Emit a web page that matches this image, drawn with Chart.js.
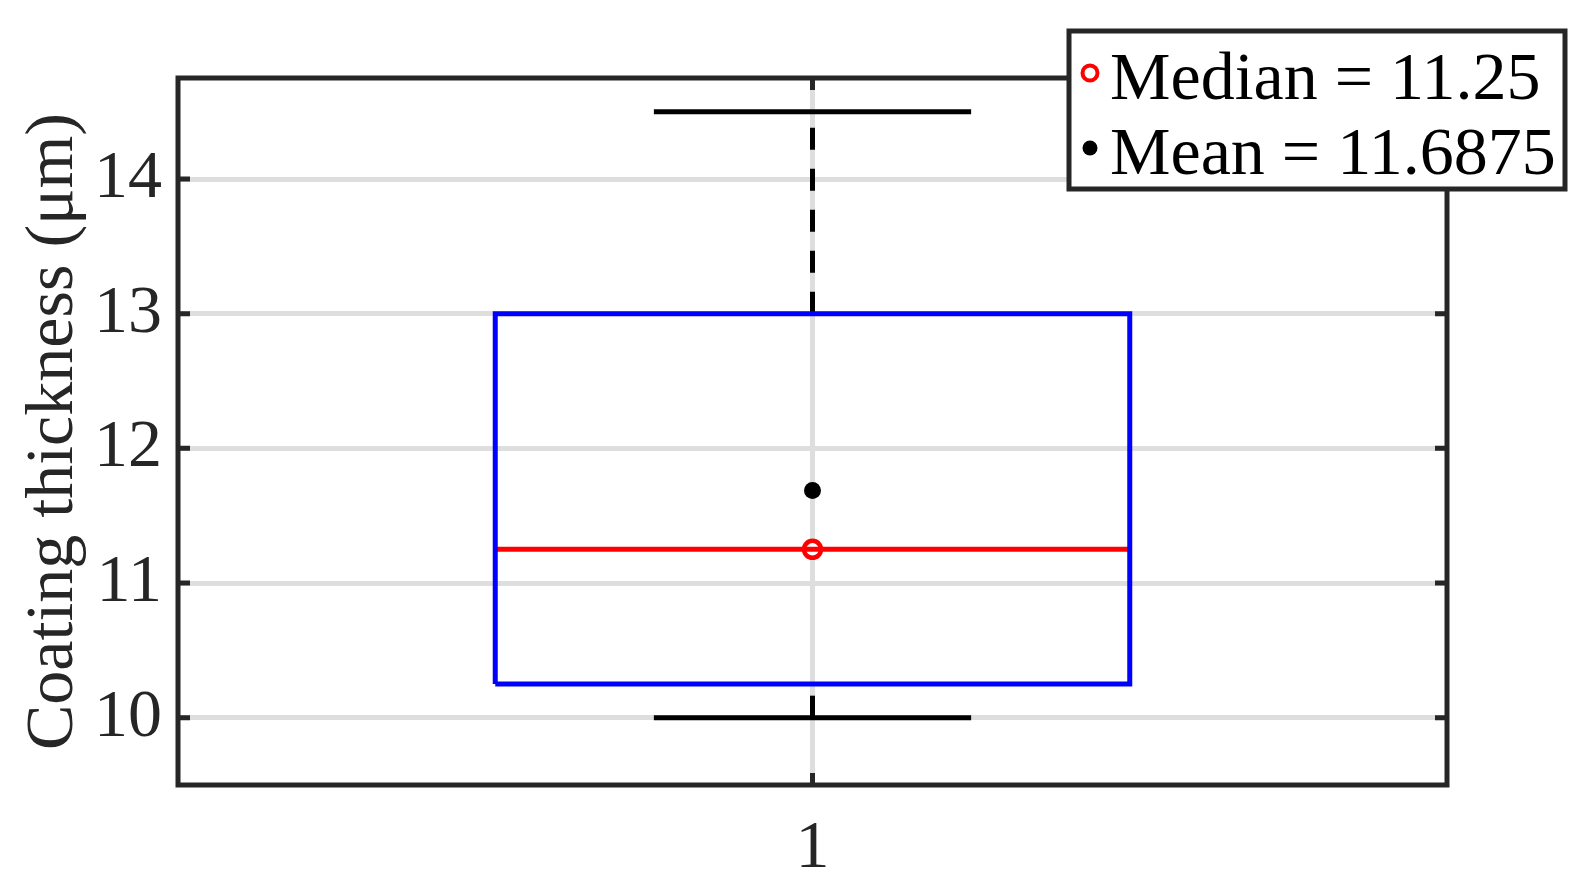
<!DOCTYPE html>
<html>
<head>
<meta charset="utf-8">
<script src="https://cdn.jsdelivr.net/npm/chart.js@4"></script>
<style>
  html, body { margin: 0; padding: 0; background: #fff; }
  #wrap { width: 1589px; height: 882px; }
</style>
</head>
<body>
<div id="wrap"><canvas id="boxchart"></canvas></div>
<script>
// box plot statistics, one group
const categories = ["1"];
const whiskerLow = [10];
const q1 = [10.25];
const median = [11.25];
const q3 = [13];
const whiskerHigh = [14.5];
const means = [11.6875];
const yTicks = [10, 11, 12, 13, 14];
const legendLabels = ["Median = 11.25", "Mean = 11.6875"];

const boxHalf = 0.25;
const capHalf = 0.125;
const axisColor = "#262626";
const serif = "'Liberation Serif', 'Times New Roman', serif";
const lw = 5;

const datasets = [];
categories.forEach((c, i) => {
  const x = i + 1;
  datasets.push({
    label: "box",
    data: [
      { x: x - boxHalf, y: q1[i] }, { x: x + boxHalf, y: q1[i] },
      { x: x + boxHalf, y: q3[i] }, { x: x - boxHalf, y: q3[i] },
      { x: x - boxHalf, y: q1[i] },
    ],
    showLine: true, borderColor: "#0000ff", borderWidth: lw,
    borderJoinStyle: "miter", pointRadius: 0,
  });
  datasets.push({
    label: "upper whisker",
    data: [{ x: x, y: q3[i] }, { x: x, y: whiskerHigh[i] }],
    showLine: true, borderColor: "#000", borderWidth: lw,
    borderDash: [22, 19], pointRadius: 0,
  });
  datasets.push({
    label: "lower whisker",
    data: [{ x: x, y: whiskerLow[i] }, { x: x, y: q1[i] }],
    showLine: true, borderColor: "#000", borderWidth: lw,
    borderDash: [22, 19], pointRadius: 0,
  });
  datasets.push({
    label: "upper cap",
    data: [{ x: x - capHalf, y: whiskerHigh[i] }, { x: x + capHalf, y: whiskerHigh[i] }],
    showLine: true, borderColor: "#000", borderWidth: lw, pointRadius: 0,
  });
  datasets.push({
    label: "lower cap",
    data: [{ x: x - capHalf, y: whiskerLow[i] }, { x: x + capHalf, y: whiskerLow[i] }],
    showLine: true, borderColor: "#000", borderWidth: lw, pointRadius: 0,
  });
  datasets.push({
    label: "median line",
    data: [{ x: x - boxHalf, y: median[i] }, { x: x + boxHalf, y: median[i] }],
    showLine: true, borderColor: "#ff0000", borderWidth: lw, pointRadius: 0,
  });
  datasets.push({
    label: legendLabels[0],
    data: [{ x: x, y: median[i] }],
    pointRadius: 8.5, pointBorderWidth: 4.5,
    pointBorderColor: "#ff0000", pointBackgroundColor: "#ffffff",
  });
  datasets.push({
    label: legendLabels[1],
    data: [{ x: x, y: means[i] }],
    pointRadius: 8.5, pointBorderWidth: 0,
    pointBackgroundColor: "#000000", pointBorderColor: "#000000",
  });
});

// frame + inward ticks like matlab
const framePlugin = {
  id: "frame",
  afterDatasetsDraw(chart) {
    const { ctx, chartArea: a, scales } = chart;
    ctx.save();
    ctx.strokeStyle = axisColor;
    ctx.lineWidth = lw;
    const tl = 12;
    ctx.beginPath();
    scales.y.ticks.forEach(t => {
      const py = scales.y.getPixelForValue(t.value);
      ctx.moveTo(a.left, py); ctx.lineTo(a.left + tl, py);
      ctx.moveTo(a.right, py); ctx.lineTo(a.right - tl, py);
    });
    scales.x.ticks.forEach(t => {
      const px = scales.x.getPixelForValue(t.value);
      ctx.moveTo(px, a.bottom); ctx.lineTo(px, a.bottom - tl);
      ctx.moveTo(px, a.top); ctx.lineTo(px, a.top + tl);
    });
    ctx.stroke();
    ctx.strokeRect(a.left, a.top, a.right - a.left, a.bottom - a.top);
    ctx.restore();
  },
};

// boxed legend overlapping the top right corner
const boxLegend = {
  id: "boxLegend",
  afterDraw(chart) {
    const { ctx } = chart;
    const bx = 1069, by = 31, bw = 496, bh = 158;
    ctx.save();
    ctx.fillStyle = "#fff";
    ctx.fillRect(bx, by, bw, bh);
    ctx.strokeStyle = axisColor;
    ctx.lineWidth = lw;
    ctx.strokeRect(bx, by, bw, bh);
    ctx.font = "68px " + serif;
    ctx.fillStyle = "#000";
    ctx.textBaseline = "alphabetic";
    const rows = [by + 68, by + 143];
    // median marker
    ctx.beginPath();
    ctx.arc(bx + 21, by + 42, 7.5, 0, Math.PI * 2);
    ctx.strokeStyle = "#ff0000";
    ctx.lineWidth = 4;
    ctx.stroke();
    // mean marker
    ctx.beginPath();
    ctx.arc(bx + 21, by + 117, 7.5, 0, Math.PI * 2);
    ctx.fillStyle = "#000";
    ctx.fill();
    legendLabels.forEach((txt, i) => ctx.fillText(txt, bx + 41, rows[i]));
    ctx.restore();
  },
};

new Chart(document.getElementById("boxchart"), {
  type: "scatter",
  data: { datasets },
  plugins: [framePlugin, boxLegend],
  options: {
    responsive: true,
    maintainAspectRatio: false,
    animation: false,
    layout: { padding: { top: 78, right: 142, left: 0, bottom: 0 } },
    plugins: { legend: { display: false }, tooltip: { enabled: false } },
    scales: {
      x: {
        type: "linear",
        min: 0.5,
        max: 1.5,
        afterBuildTicks: s => { s.ticks = categories.map((c, i) => ({ value: i + 1 })); },
        afterFit: s => { s.height = 97; },
        ticks: {
          callback: (v) => categories[Math.round(v) - 1],
          font: { family: serif, size: 68 },
          color: axisColor,
          padding: 23,
        },
        grid: { color: "#dedede", lineWidth: lw, drawTicks: false },
        border: { display: false },
      },
      y: {
        min: 9.5,
        max: 14.75,
        afterBuildTicks: s => { s.ticks = yTicks.map(v => ({ value: v })); },
        afterFit: s => { s.width = 178; },
        ticks: {
          font: { family: serif, size: 68 },
          color: axisColor,
          padding: 16,
        },
        grid: { color: "#dedede", lineWidth: lw, drawTicks: false },
        border: { display: false },
        title: {
          display: true,
          text: "Coating thickness (μm)",
          font: { family: serif, size: 68 },
          color: axisColor,
          padding: { top: 13, bottom: 0 },
        },
      },
    },
  },
});
</script>
</body>
</html>
